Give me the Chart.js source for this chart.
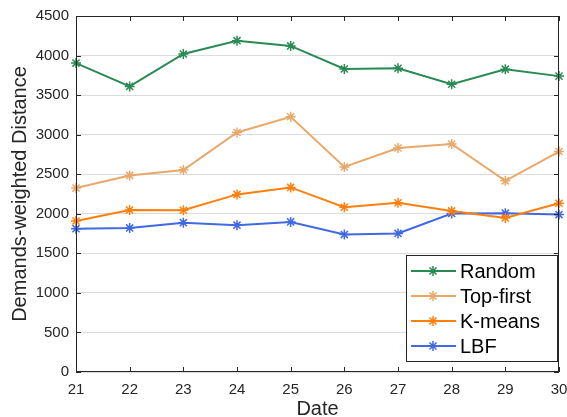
<!DOCTYPE html>
<html>
<head>
<meta charset="utf-8">
<script src="https://cdn.jsdelivr.net/npm/chart.js@4.4.1/dist/chart.umd.min.js"></script>
<style>
  html, body { margin: 0; padding: 0; background: #fff; }
  #wrap { width: 567px; height: 417px; }
</style>
</head>
<body>
<div id="wrap"><canvas id="chart" width="567" height="417"></canvas></div>
<script>
const dates = ["21", "22", "23", "24", "25", "26", "27", "28", "29", "30"];
const randomVals = [3905, 3610, 4020, 4188, 4122, 3830, 3840, 3638, 3828, 3740];
const topFirstVals = [2325, 2485, 2553, 3027, 3226, 2592, 2832, 2882, 2416, 2787];
const kmeansVals = [1908, 2048, 2044, 2245, 2333, 2082, 2140, 2036, 1948, 2133];
const lbfVals = [1812, 1821, 1888, 1856, 1897, 1737, 1752, 2003, 2008, 1990];
const yTicks = [0, 500, 1000, 1500, 2000, 2500, 3000, 3500, 4000, 4500];

const series = [
    { label: "Random", data: randomVals, color: "#2a8a54" },
    { label: "Top-first", data: topFirstVals, color: "#e9a86a" },
    { label: "K-means", data: kmeansVals, color: "#ff7f0e" },
    { label: "LBF", data: lbfVals, color: "#4169e1" },
];

const axisColor = "#262626";
const fontFamily = "'Liberation Sans', Arial, sans-serif";

// box round the plot with inward ticks, like the original figure
const framePlugin = {
    id: "frame",
    afterDatasetsDraw(chart) {
        const { ctx, chartArea: a, scales } = chart;
        ctx.save();
        ctx.strokeStyle = axisColor;
        ctx.lineWidth = 1;
        ctx.strokeRect(a.left + 0.5, a.top + 0.5, a.right - a.left - 1, a.bottom - a.top - 1);
        const len = 5;
        ctx.beginPath();
        dates.forEach((d, i) => {
            const x = Math.round(scales.x.getPixelForValue(i)) + 0.5;
            ctx.moveTo(x, a.bottom); ctx.lineTo(x, a.bottom - len);
            ctx.moveTo(x, a.top); ctx.lineTo(x, a.top + len);
        });
        yTicks.forEach((v) => {
            const y = Math.round(scales.y.getPixelForValue(v)) + 0.5;
            ctx.moveTo(a.left, y); ctx.lineTo(a.left + len, y);
            ctx.moveTo(a.right, y); ctx.lineTo(a.right - len, y);
        });
        ctx.stroke();
        ctx.restore();
    },
};

// legend box in the lower right of the plot
const legendPlugin = {
    id: "boxLegend",
    afterDraw(chart) {
        const { ctx, chartArea: a } = chart;
        const boxW = 151, boxH = 106;
        const left = a.right - 153, top = a.bottom - 117;
        ctx.save();
        ctx.fillStyle = "#fff";
        ctx.fillRect(left, top, boxW, boxH);
        ctx.strokeStyle = axisColor;
        ctx.lineWidth = 1;
        ctx.strokeRect(left + 0.5, top + 0.5, boxW, boxH);
        ctx.font = "20px " + fontFamily;
        ctx.textBaseline = "middle";
        chart.data.datasets.forEach((ds, i) => {
            const y = top + 16 + i * 25;
            ctx.strokeStyle = ds.borderColor;
            ctx.lineWidth = 2;
            ctx.beginPath();
            ctx.moveTo(left + 5, y);
            ctx.lineTo(left + 50, y);
            ctx.stroke();
            ctx.lineWidth = 1.5;
            Chart.helpers.drawPoint(ctx, { pointStyle: "star", radius: 5, rotation: 0, borderWidth: 1.5 }, left + 27, y);
            ctx.fillStyle = "#000";
            ctx.fillText(ds.label, left + 54, y + 1);
        });
        ctx.restore();
    },
};

const ctx = document.getElementById("chart").getContext("2d");

new Chart(ctx, {
    type: "line",
    data: {
        labels: dates,
        datasets: series.map((s) => ({
            label: s.label,
            data: s.data,
            borderColor: s.color,
            backgroundColor: s.color,
            borderWidth: 2,
            pointStyle: "star",
            pointRadius: 5,
            pointBorderWidth: 1.5,
            tension: 0,
            fill: false,
        })),
    },
    options: {
        responsive: false,
        animation: false,
        layout: { padding: { left: 0, top: 16, right: 8, bottom: 0 } },
        plugins: {
            legend: { display: false },
            tooltip: { enabled: false },
        },
        scales: {
            x: {
                offset: false,
                grid: { display: false, drawTicks: false },
                border: { display: false },
                ticks: {
                    color: axisColor,
                    font: { family: fontFamily, size: 15 },
                    padding: 9,
                    maxRotation: 0,
                },
                title: {
                    display: true,
                    text: "Date",
                    color: axisColor,
                    font: { family: fontFamily, size: 20, lineHeight: 1 },
                    padding: { top: -2, bottom: -2 },
                },
                afterFit(scale) {
                    scale.height = 45;
                    scale.paddingLeft = 0;
                    scale.paddingRight = 0;
                },
            },
            y: {
                min: 0,
                max: 4500,
                afterBuildTicks(scale) { scale.ticks = yTicks.map((v) => ({ value: v })); },
                grid: { color: "#dcdcdc", drawTicks: false },
                border: { display: false },
                ticks: {
                    color: axisColor,
                    font: { family: fontFamily, size: 15 },
                    padding: 7,
                    callback: (v) => String(v),
                },
                title: {
                    display: true,
                    text: "Demands-weighted Distance",
                    color: axisColor,
                    font: { family: fontFamily, size: 20 },
                    padding: { top: 8, bottom: 2 },
                },
                afterFit(scale) { scale.width = 76; },
            },
        },
    },
    plugins: [framePlugin, legendPlugin],
});
</script>
</body>
</html>
